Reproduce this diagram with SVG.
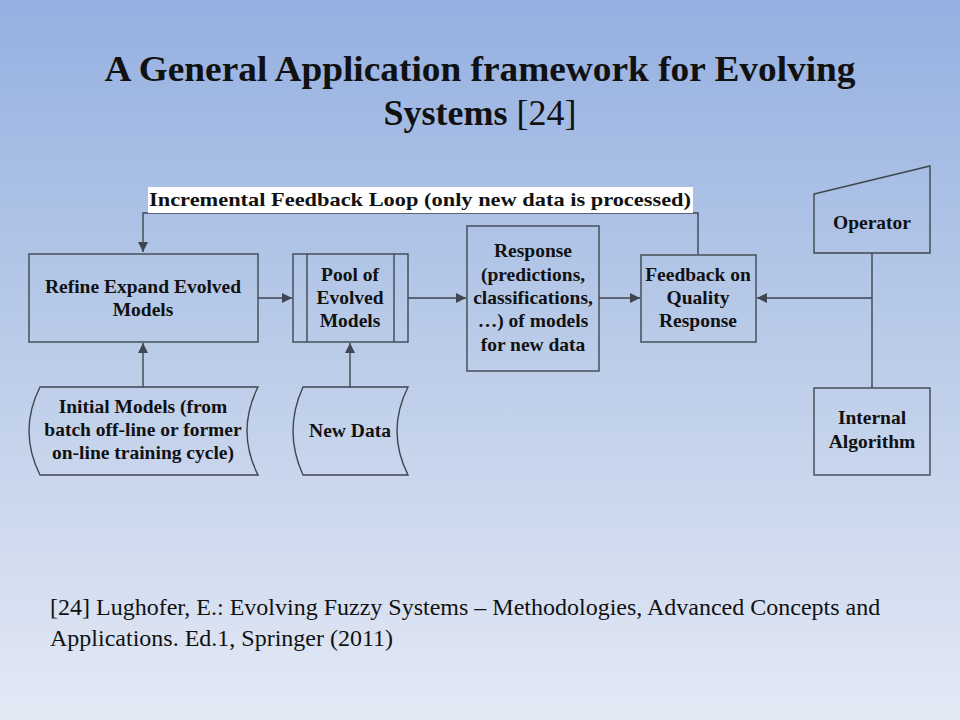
<svg xmlns="http://www.w3.org/2000/svg" width="960" height="720" viewBox="0 0 960 720">
<defs>
<linearGradient id="bg" x1="0" y1="0" x2="0" y2="1">
<stop offset="0" stop-color="#95b0e1"/>
<stop offset="0.5" stop-color="#bccde9"/>
<stop offset="1" stop-color="#e4e9f5"/>
</linearGradient>
<marker id="arr" viewBox="0 0 10 10" refX="10" refY="5" markerWidth="10" markerHeight="10" markerUnits="userSpaceOnUse" orient="auto">
<path d="M0,0 L10,5 L0,10 Z" fill="#3f4650"/>
</marker>
</defs>
<style>
.shape{fill:none;stroke:#3f4650;stroke-width:1.4}
.con{fill:none;stroke:#3f4650;stroke-width:1.4}
.t{font-family:"Liberation Serif","Times New Roman",serif;font-weight:bold;font-size:19.5px;fill:#111;text-anchor:middle}
.title{font-family:"Liberation Serif","Times New Roman",serif;font-weight:bold;font-size:36px;fill:#111;text-anchor:middle}
.ref{font-family:"Liberation Serif","Times New Roman",serif;font-size:24px;fill:#111}
</style>
<rect x="0" y="0" width="960" height="720" fill="url(#bg)"/>
<text class="title" x="480" y="81" textLength="751" lengthAdjust="spacingAndGlyphs">A General Application framework for Evolving</text>
<text class="title" x="480" y="125">Systems <tspan font-weight="normal">[24]</tspan></text>

<g id="connectors">
<polyline class="con" points="698,254 698,213 143,213 143,252" marker-end="url(#arr)"/>
<line class="con" x1="258" y1="298" x2="292" y2="298" marker-end="url(#arr)"/>
<line class="con" x1="408" y1="298" x2="466" y2="298" marker-end="url(#arr)"/>
<line class="con" x1="599" y1="298" x2="640" y2="298" marker-end="url(#arr)"/>
<line class="con" x1="143" y1="387" x2="143" y2="343" marker-end="url(#arr)"/>
<line class="con" x1="350" y1="387" x2="350" y2="343" marker-end="url(#arr)"/>
<line class="con" x1="872" y1="253" x2="872" y2="388"/>
<line class="con" x1="872" y1="298" x2="757" y2="298" marker-end="url(#arr)"/>
</g>

<g id="loop-label">
<rect x="148" y="187" width="545" height="26" fill="#ffffff"/>
<text class="t" x="420" y="206" font-size="22" textLength="542" lengthAdjust="spacingAndGlyphs">Incremental Feedback Loop (only new data is processed)</text>
</g>

<g id="refine">
<rect class="shape" x="29" y="254" width="229" height="88"/>
<text class="t" x="143" y="293">Refine Expand Evolved</text>
<text class="t" x="143" y="316">Models</text>
</g>

<g id="pool">
<rect class="shape" x="293" y="254" width="115" height="88"/>
<line class="shape" x1="307" y1="254" x2="307" y2="342"/>
<line class="shape" x1="394" y1="254" x2="394" y2="342"/>
<text class="t" x="350" y="281">Pool of</text>
<text class="t" x="350" y="304">Evolved</text>
<text class="t" x="350" y="327">Models</text>
</g>

<g id="response">
<rect class="shape" x="467" y="226" width="132" height="145"/>
<text class="t" x="533" y="257">Response</text>
<text class="t" x="533" y="281">(predictions,</text>
<text class="t" x="533" y="304">classifications,</text>
<text class="t" x="533" y="327">…) of models</text>
<text class="t" x="533" y="351">for new data</text>
</g>

<g id="feedback">
<rect class="shape" x="641" y="255" width="115" height="87"/>
<text class="t" x="698" y="281">Feedback on</text>
<text class="t" x="698" y="304">Quality</text>
<text class="t" x="698" y="327">Response</text>
</g>

<g id="operator">
<path class="shape" d="M814,194 L930,166 L930,253 L814,253 Z"/>
<text class="t" x="872" y="229">Operator</text>
</g>

<g id="internal">
<rect class="shape" x="814" y="388" width="116" height="87"/>
<text class="t" x="872" y="424">Internal</text>
<text class="t" x="872" y="448">Algorithm</text>
</g>

<g id="initial">
<path class="shape" d="M40,387 L258,387 Q236,431 258,475 L40,475 Q18,431 40,387 Z"/>
<text class="t" x="143" y="413">Initial Models (from</text>
<text class="t" x="143" y="436">batch off-line or former</text>
<text class="t" x="143" y="459">on-line training cycle)</text>
</g>

<g id="newdata">
<path class="shape" d="M303,387 L408,387 Q386,431 408,475 L303,475 Q283,431 303,387 Z"/>
<text class="t" x="350" y="437">New Data</text>
</g>

<text class="ref" x="50" y="615">[24] Lughofer, E.: Evolving Fuzzy Systems – Methodologies, Advanced Concepts and</text>
<text class="ref" x="50" y="646">Applications. Ed.1, Springer (2011)</text>
</svg>
